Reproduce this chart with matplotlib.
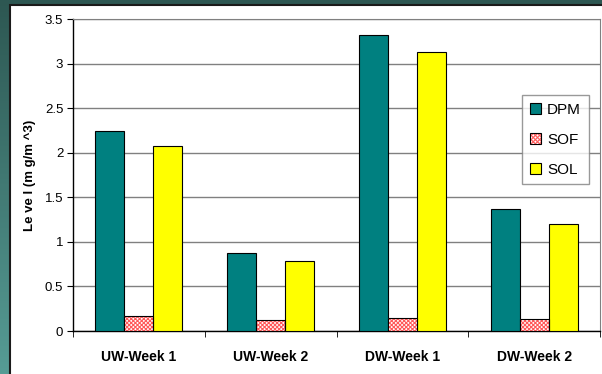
import numpy as np
import matplotlib
matplotlib.use('Agg')
import matplotlib.pyplot as plt
from matplotlib.patches import Patch, Rectangle
from matplotlib.legend_handler import HandlerTuple

plt.rcParams['font.family'] = ['Liberation Sans', 'DejaVu Sans']
plt.rcParams['hatch.linewidth'] = 0.8

groups = ['UW-Week 1', 'UW-Week 2', 'DW-Week 1', 'DW-Week 2']
dpm = [2.24, 0.87, 3.32, 1.37]
sof = [0.17, 0.12, 0.15, 0.14]
sol = [2.075, 0.78, 3.13, 1.20]
yticks = [0, 0.5, 1, 1.5, 2, 2.5, 3, 3.5]
ytick_labels = ['0', '0.5', '1', '1.5', '2', '2.5', '3', '3.5']

teal = '#008080'
yellow = '#ffff00'
sof_red = '#ff5a5a'

fig = plt.figure(figsize=(6.02, 3.74), dpi=100)

# slide background: teal gradient with a white panel on top
bg = fig.add_axes([0, 0, 1, 1], zorder=-10)
grad = np.linspace(0, 1, 256).reshape(-1, 1)
top_c = np.array([0x2d, 0x57, 0x52]) / 255
bot_c = np.array([0x56, 0x9c, 0x95]) / 255
img = top_c + (bot_c - top_c) * grad[:, :, None]
bg.imshow(img, aspect='auto', extent=[0, 1, 0, 1], origin='upper')
x0 = 10 / 602
y1 = (374 - 5) / 374
bg.add_patch(Rectangle((x0, -0.01), 1.1 - x0, y1 + 0.01, facecolor='white',
                       edgecolor='#1a1a1a', linewidth=1.5))
bg.set_xlim(0, 1)
bg.set_ylim(0, 1)
bg.axis('off')

ax = fig.add_axes([73 / 602, 43 / 374, 527 / 602, 312 / 374])

x = np.arange(len(groups))
w = 0.22
ax.bar(x - w, dpm, w, color=teal, edgecolor='black', linewidth=0.8, zorder=3)
ax.bar(x, sof, w, color='white', edgecolor=sof_red, hatch='xxxxxxxx', linewidth=0, zorder=3)
ax.bar(x, sof, w, color='none', edgecolor='black', linewidth=0.8, zorder=4)
ax.bar(x + w, sol, w, color=yellow, edgecolor='black', linewidth=0.8, zorder=3)

ax.set_xlim(-0.5, len(groups) - 0.5)
ax.set_ylim(0, 3.5)
ax.set_yticks(yticks)
ax.set_yticklabels(ytick_labels, fontsize=9.5)
ax.set_xticks(x)
ax.set_xticklabels(groups, fontsize=10, fontweight='bold')
ax.set_xticks(np.arange(len(groups) + 1) - 0.5, minor=True)
ax.tick_params(axis='x', which='major', length=0, pad=14)
ax.tick_params(axis='x', which='minor', length=4, direction='out', color='black')
ax.tick_params(axis='y', length=4, direction='out', pad=3, color='black')

ax.yaxis.grid(True, color='#808080', linewidth=1.0, zorder=0)
ax.set_axisbelow(True)
for s in ['top', 'right']:
    ax.spines[s].set_color('#808080')
for s in ['left', 'bottom']:
    ax.spines[s].set_color('black')
    ax.spines[s].set_linewidth(1.0)

ax.set_ylabel('Le ve l (m g/m ^3)', fontsize=9.5, fontweight='bold', labelpad=6)

handles = [
    Patch(facecolor=teal, edgecolor='black', linewidth=0.8),
    (Patch(facecolor='white', edgecolor=sof_red, hatch='xxxxxxxx', linewidth=0),
     Patch(facecolor='none', edgecolor='black', linewidth=0.8)),
    Patch(facecolor=yellow, edgecolor='black', linewidth=0.8),
]
leg = ax.legend(handles, ['DPM', 'SOF', 'SOL'], handler_map={tuple: HandlerTuple(ndivide=1)},
                loc='upper left', bbox_to_anchor=((522 - 73) / 527, (331 - 95) / 312),
                fontsize=11, frameon=True, fancybox=False, borderaxespad=0,
                handlelength=0.75, handleheight=0.75, handletextpad=0.4,
                labelspacing=1.05, borderpad=0.5)
leg.get_frame().set_edgecolor('#808080')
leg.get_frame().set_linewidth(1.0)

fig.savefig('out.png', dpi=100)
